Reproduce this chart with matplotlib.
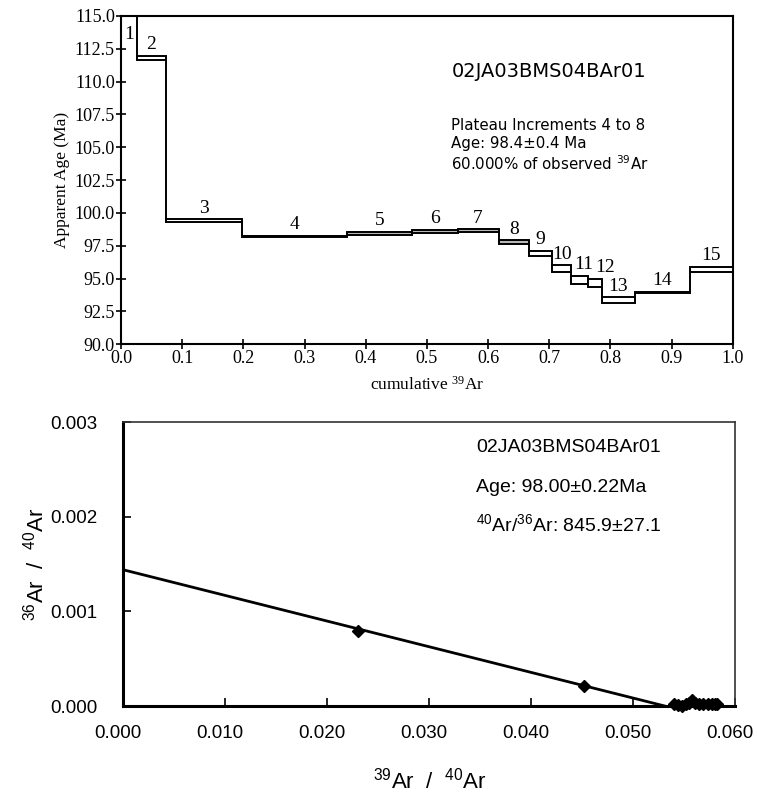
import numpy as np
import matplotlib
matplotlib.use('Agg')
import matplotlib.pyplot as plt
from matplotlib.ticker import FormatStrFormatter, MultipleLocator
from matplotlib.transforms import ScaledTranslation

plt.rcParams['mathtext.default'] = 'regular'

# 年龄谱: 各加热阶段的累积 39Ar 边界、视年龄和误差
step_edges = [0.0, 0.026, 0.0735, 0.197, 0.369, 0.475, 0.55, 0.617, 0.667,
              0.705, 0.736, 0.764, 0.786, 0.840, 0.930, 1.0]
step_ages = [115.6, 111.8, 99.4, 98.2, 98.45, 98.6, 98.65, 97.75, 96.9,
             95.75, 94.9, 94.65, 93.35, 93.95, 95.7]
step_errs = [0.6, 0.15, 0.1, 0.05, 0.1, 0.1, 0.1, 0.15, 0.22,
             0.25, 0.3, 0.3, 0.22, 0.05, 0.2]
step_names = [str(i) for i in range(1, 16)]
plateau_steps = [4, 5, 6, 7, 8]

# 等时线: 39Ar/40Ar 与 36Ar/40Ar
iso_x = [0.02305, 0.04522, 0.0540, 0.0544, 0.0548, 0.0552, 0.0555, 0.0558,
         0.0561, 0.0565, 0.0569, 0.0573, 0.0577, 0.0580, 0.0582]
iso_y = [0.000796, 0.000211, 0.00002, 0.00001, 0.0, 0.00002, 0.00003, 0.00006,
         0.00003, 0.00002, 0.00002, 0.00002, 0.00002, 0.00002, 0.00002]
iso_y0 = 0.00144      # 纵轴截距
iso_x0 = 0.0531       # 横轴截距

fig = plt.figure(figsize=(7.57, 7.93), dpi=100)

# ---------- 上图: 年龄谱 ----------
ax1 = fig.add_axes([0.160, 0.566, 0.808, 0.414])
lefts = np.array(step_edges[:-1])
widths = np.diff(step_edges)
ages = np.array(step_ages)
errs = np.array(step_errs)
colors = ['#b8b8b8' if i + 1 in plateau_steps else 'white' for i in range(len(ages))]
ax1.bar(lefts, 2 * errs, bottom=ages - errs, width=widths, align='edge',
        color=colors, edgecolor='black', linewidth=1.4, zorder=3)
# 相邻阶段之间的竖线
ax1.vlines(step_edges[1:-1], ages[:-1], ages[1:], color='black', linewidth=1.4, zorder=2)
# 拥挤处标号稍微右移
nudge = {11: 0.006, 12: 0.017}
for i, name in enumerate(step_names):
    xc = lefts[i] + widths[i] / 2 + nudge.get(i + 1, 0)
    yc = min(ages[i] + errs[i] + 0.85, 113.6)
    ax1.text(xc, yc, name, ha='center', va='center', fontsize=14,
             family='Liberation Serif')

ax1.set_xlim(0, 1.0)
ax1.set_ylim(90, 115)
ax1.xaxis.set_major_locator(MultipleLocator(0.1))
ax1.yaxis.set_major_locator(MultipleLocator(2.5))
ax1.xaxis.set_major_formatter(FormatStrFormatter('%.1f'))
ax1.yaxis.set_major_formatter(FormatStrFormatter('%.1f'))
ax1.tick_params(direction='inout', length=7, width=1.2, labelsize=13, pad=1)
for lab in ax1.get_xticklabels() + ax1.get_yticklabels():
    lab.set_family('Liberation Serif')
for sp in ax1.spines.values():
    sp.set_linewidth(1.5)
ax1.set_ylabel('Apparent Age (Ma)', fontsize=12.5, family='Liberation Serif', labelpad=3)
ax1.set_xlabel(r'cumulative $^{39}$Ar', fontsize=12.5, family='Liberation Serif', labelpad=6)

ax1.text(0.54, 0.83, '02JA03BMS04BAr01', transform=ax1.transAxes, fontsize=14,
         family='DejaVu Sans', va='center')
ax1.text(0.54, 0.605, 'Plateau Increments 4 to 8\nAge: 98.4\u00b10.4 Ma\n'
         r'60.000% of observed $^{39}$Ar', transform=ax1.transAxes, fontsize=10.8,
         family='DejaVu Sans', va='center', linespacing=1.22)

# ---------- 下图: 等时线 ----------
ax2 = fig.add_axes([0.163, 0.1097, 0.808, 0.3578])
ax2.plot([0, iso_x0], [iso_y0, 0], color='black', linewidth=2, zorder=2)
ax2.plot(iso_x, iso_y, linestyle='none', marker='D', markersize=6.5,
         color='black', zorder=3, clip_on=False)
ax2.set_xlim(0, 0.060)
ax2.set_ylim(0, 0.003)
ax2.set_xticks(np.arange(0, 0.0601, 0.01))
ax2.set_yticks(np.arange(0, 0.00301, 0.001))
ax2.xaxis.set_major_formatter(FormatStrFormatter('%.3f'))
ax2.yaxis.set_major_formatter(FormatStrFormatter('%.3f'))
ax2.tick_params(axis='x', direction='in', length=6, width=1.2, labelsize=13.5, pad=14)
ax2.tick_params(axis='y', direction='in', length=6, width=1.2, labelsize=13.5, pad=19)
shift = ScaledTranslation(-4 / 72, 0, fig.dpi_scale_trans)
for lab in ax2.get_xticklabels():
    lab.set_transform(lab.get_transform() + shift)
for lab in ax2.get_xticklabels() + ax2.get_yticklabels():
    lab.set_family('Liberation Sans')
ax2.spines['left'].set_linewidth(2.2)
ax2.spines['bottom'].set_linewidth(2.2)
ax2.spines['top'].set_linewidth(1.2)
ax2.spines['right'].set_linewidth(1.2)
ax2.spines['top'].set_color('#333333')
ax2.spines['right'].set_color('#333333')
ax2.set_xlabel(r'$^{39}$Ar  /  $^{40}$Ar', fontsize=16, family='Liberation Sans', labelpad=18)
ax2.set_ylabel(r'$^{36}$Ar  /  $^{40}$Ar', fontsize=16, family='Liberation Sans', labelpad=1)

ax2.text(0.577, 0.91, '02JA03BMS04BAr01', transform=ax2.transAxes, fontsize=14,
         family='Liberation Sans', va='center')
ax2.text(0.577, 0.77, 'Age: 98.00\u00b10.22Ma', transform=ax2.transAxes, fontsize=14,
         family='Liberation Sans', va='center')
ax2.text(0.577, 0.64, r'$^{40}$Ar/$^{36}$Ar: 845.9$\pm$27.1', transform=ax2.transAxes,
         fontsize=14, family='Liberation Sans', va='center')

fig.savefig('out.png', dpi=100)
